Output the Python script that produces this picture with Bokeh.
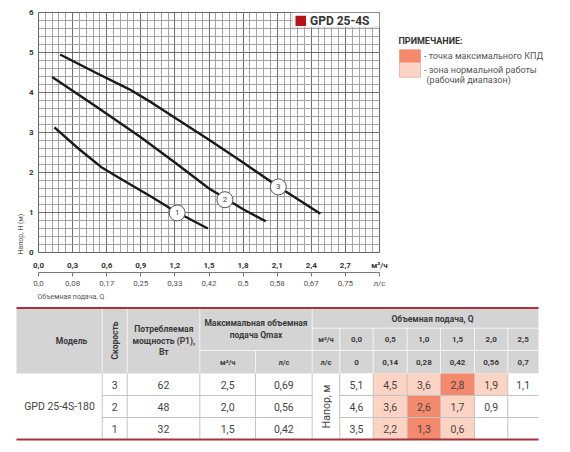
import math
from bokeh.plotting import figure
from bokeh.models import (Range1d, LinearAxis, FixedTicker, Label, BoxAnnotation, Title,
                          ColumnDataSource, CustomJSTickFormatter)
from bokeh.layouts import column, row
from bokeh.embed import file_html
from bokeh.resources import INLINE
from bokeh.core.properties import value

FONT = "Roboto"

# ---------------- data: pump curves (Q in m3/h, H in m) ----------------
q_speed1 = [0.14, 0.35, 0.55, 0.70, 0.85, 1.00, 1.20, 1.49]
h_speed1 = [3.13, 2.60, 2.14, 1.88, 1.63, 1.38, 1.03, 0.60]
q_speed2 = [0.12, 0.50, 0.90, 1.20, 1.50, 1.80, 2.00]
h_speed2 = [4.39, 3.66, 2.88, 2.25, 1.60, 1.08, 0.78]
q_speed3 = [0.19, 0.50, 0.80, 1.00, 1.20, 1.50, 1.80, 2.10, 2.48]
h_speed3 = [4.95, 4.50, 4.08, 3.74, 3.37, 2.82, 2.25, 1.66, 0.97]
marker_q = [1.22, 1.64, 2.11]
marker_h = [0.99, 1.32, 1.64]
marker_labels = ["1", "2", "3"]

q_ticks = [0.0, 0.3, 0.6, 0.9, 1.2, 1.5, 1.8, 2.1, 2.4, 2.7, 3.0]
q_tick_labels = ["0,0", "0,3", "0,6", "0,9", "1,2", "1,5", "1,8", "2,1", "2,4", "2,7", "м³/ч"]
ls_tick_labels = ["0,0", "0,08", "0,17", "0,25", "0,33", "0,42", "0,5", "0,58", "0,67", "0,75", "л/с"]
h_ticks = [0, 1, 2, 3, 4, 5, 6]

# ---------------- data: table ----------------
model_name = "GPD 25-4S-180"
speeds = [3, 2, 1]
power_w = [62, 48, 32]
qmax_m3h = [2.5, 2.0, 1.5]
qmax_ls = [0.69, 0.56, 0.42]
flow_m3h = [0.0, 0.5, 1.0, 1.5, 2.0, 2.5]
flow_ls = ["0", "0,14", "0,28", "0,42", "0,56", "0,7"]
head_speed3 = [5.1, 4.5, 3.6, 2.8, 1.9, 1.1]
head_speed2 = [4.6, 3.6, 2.6, 1.7, 0.9, None]
head_speed1 = [3.5, 2.2, 1.3, 0.6, None, None]
zone_speed3 = [0, 1, 1, 2, 1, 0]   # 0 none, 1 working range, 2 max efficiency
zone_speed2 = [0, 1, 2, 1, 0, 0]
zone_speed1 = [0, 1, 2, 1, 0, 0]


def fmt(v, nd=1):
    if v is None:
        return ""
    return f"{v:.{nd}f}".replace(".", ",")


DARK = "#f4896b"
LIGHT = "#fdd3c3"

# ================= chart figure =================
CW, CH = 395, 300
X_MAX, Y_MAX = 3.0, 6.0
p = figure(width=CW, height=CH, output_backend="svg", toolbar_location=None,
           x_range=Range1d(0, X_MAX), y_range=Range1d(0, Y_MAX),
           min_border_left=38, min_border_right=16, min_border_top=12, min_border_bottom=47,
           background_fill_color="white", border_fill_color="white")
p.outline_line_color = "#666666"
p.outline_line_width = 1

# grid
p.xgrid.ticker = FixedTicker(ticks=q_ticks, minor_ticks=[round(i * 0.06, 2) for i in range(51)])
p.ygrid.ticker = FixedTicker(ticks=h_ticks, minor_ticks=[round(i * 0.2, 1) for i in range(31)])
for g in (p.xgrid, p.ygrid):
    g.grid_line_color = "#6e6e6e"
    g.grid_line_width = 1
    g.minor_grid_line_color = "#9a9a9a"
    g.minor_grid_line_width = 0.9

# primary x axis
xa = p.xaxis[0]
xa.ticker = FixedTicker(ticks=q_ticks)
xa.formatter = CustomJSTickFormatter(args=dict(labels=q_tick_labels), code="return labels[index];")
xa.axis_line_color = None
xa.major_tick_line_color = None
xa.minor_tick_line_color = None
xa.major_tick_out = 0
xa.major_tick_in = 0
xa.major_label_standoff = 8
xa.major_label_text_font = FONT
xa.major_label_text_font_size = "8px"
xa.major_label_text_font_style = "bold"
xa.major_label_text_color = "#333333"

# secondary x axis (l/s)
p.extra_x_ranges = {"ls": Range1d(0, X_MAX / 3.6)}
ax2 = LinearAxis(x_range_name="ls")
ax2.ticker = FixedTicker(ticks=[q / 3.6 for q in q_ticks])
ax2.formatter = CustomJSTickFormatter(args=dict(labels=ls_tick_labels), code="return labels[index];")
ax2.axis_line_color = "#777777"
ax2.major_tick_line_color = "#777777"
ax2.minor_tick_line_color = None
ax2.major_tick_out = 4
ax2.major_tick_in = 0
ax2.major_label_standoff = 2
ax2.major_label_text_font = FONT
ax2.major_label_text_font_size = "8px"
ax2.major_label_text_color = "#555555"
p.add_layout(ax2, "below")

# y axis
ya = p.yaxis[0]
ya.ticker = FixedTicker(ticks=h_ticks)
ya.axis_line_color = None
ya.major_tick_line_color = None
ya.minor_tick_line_color = None
ya.major_tick_out = 0
ya.major_tick_in = 0
ya.major_label_standoff = 5
ya.major_label_text_font = FONT
ya.major_label_text_font_size = "8px"
ya.major_label_text_font_style = "bold"
ya.major_label_text_color = "#333333"

# axis titles as side titles (left aligned)
p.add_layout(Title(text="Объемная подача, Q", align="left", text_font=FONT, text_font_size="7px",
                   text_font_style="normal", text_color="#555555", standoff=0, offset=-1), "below")
p.add_layout(Title(text="Напор, Н (м)", align="left", text_font=FONT, text_font_size="7px",
                   text_font_style="normal", text_color="#555555", standoff=2, offset=-2), "left")

# curves
for qs, hs in ((q_speed1, h_speed1), (q_speed2, h_speed2), (q_speed3, h_speed3)):
    p.line(qs, hs, line_color="#1a1a1a", line_width=2.4, line_join="round", line_cap="butt")

msrc = ColumnDataSource(dict(x=marker_q, y=marker_h, t=marker_labels))
p.scatter("x", "y", source=msrc, size=16, marker="circle", fill_color="white",
          line_color="#555555", line_width=1)
p.text("x", "y", text="t", source=msrc, text_align="center", text_baseline="middle",
       text_font=value(FONT), text_font_size="8px", text_color="#444444")

# model badge (page px -> data helpers)
FX0, FX1, FY0, FY1 = 38.0, 379.0, 12.0, 253.0


def dx(px):
    return (px - FX0) * X_MAX / (FX1 - FX0)


def dy(py):
    return (FY1 - py) * Y_MAX / (FY1 - FY0)


p.add_layout(BoxAnnotation(left=dx(291.7), right=dx(379), top=dy(12), bottom=dy(26.7),
                           fill_color="white", fill_alpha=1, line_color="#888888", line_width=1))
p.add_layout(BoxAnnotation(left=dx(295), right=dx(305.5), top=dy(15.2), bottom=dy(25.5),
                           fill_color="#b5121b", fill_alpha=1, line_color=None))
p.add_layout(Label(x=dx(309.5), y=dy(20.5), text="GPD 25-4S", text_font=FONT, text_font_size="12px",
                   text_font_style="bold", text_color="#333333", text_baseline="middle"))

# ================= note figure (right side) =================
NW = 570 - CW
n = figure(width=NW, height=CH, output_backend="svg", toolbar_location=None,
           x_range=Range1d(CW, CW + NW), y_range=Range1d(CH, 0), min_border=0,
           background_fill_color="white", border_fill_color="white")
n.axis.visible = False
n.grid.visible = False
n.outline_line_color = None
n.quad(left=[399, 399], right=[420, 420], top=[46.5, 62.5], bottom=[62.5, 81],
       fill_color=[DARK, LIGHT], line_color=["#e39a85", "#e8b3a3"], line_width=0.8)
nsrc = ColumnDataSource(dict(x=[423.5, 423.5, 426], y=[54, 72, 84],
                             t=["- точка максимального КПД", "- зона нормальной работы", "(рабочий диапазон)"]))
n.text("x", "y", text="t", source=nsrc, text_align="left", text_baseline="middle",
       text_font=value(FONT), text_font_size="9px", text_color="#555555")
n.text([398], [36], text=["ПРИМЕЧАНИЕ:"], text_align="left", text_baseline="middle",
       text_font=value(FONT), text_font_size="9px", text_font_style="bold", text_color="#333333")

# ================= table figure =================
TY0 = CH
TW, TH = 570, 151
t = figure(width=TW, height=TH, output_backend="svg", toolbar_location=None,
           x_range=Range1d(0, TW), y_range=Range1d(TY0 + TH, TY0),
           min_border=0, background_fill_color="white", border_fill_color="white")
t.axis.visible = False
t.grid.visible = False
t.outline_line_color = None

cx = [16, 101.7, 126.7, 199.3, 255, 311.7, 339.3, 372.7, 406.7, 440, 474, 507.3, 538]
hy_top, hy_mid1, hy_mid2, hy_bot = 307.5, 327.7, 350, 373
ry = [373, 395, 417, 439]
HEAD_GRAY = "#d4d4d4"
RED = "#a8323a"
TXT = "#444444"
HTXT = "#3a3a3a"

t.quad(left=[cx[0]], right=[cx[-1]], top=[hy_top], bottom=[hy_bot], fill_color=HEAD_GRAY, line_color=None)

zone_colors = {0: "white", 1: LIGHT, 2: DARK}
heads = [head_speed3, head_speed2, head_speed1]
zones = [zone_speed3, zone_speed2, zone_speed1]
cl, cr, ct, cb, cc = [], [], [], [], []
for r, zr in enumerate(zones):
    for j, z in enumerate(zr):
        cl.append(cx[6 + j]); cr.append(cx[7 + j])
        ct.append(ry[r]); cb.append(ry[r + 1])
        cc.append(zone_colors[z])
t.quad(left=cl, right=cr, top=ct, bottom=cb, fill_color=cc, line_color=None)

# header separators (white)
hx0, hx1, hy0, hy1 = [], [], [], []
for xv in cx[1:4]:
    hx0.append(xv); hx1.append(xv); hy0.append(hy_top); hy1.append(hy_bot)
hx0.append(cx[4]); hx1.append(cx[4]); hy0.append(hy_mid2); hy1.append(hy_bot)
hx0.append(cx[5]); hx1.append(cx[5]); hy0.append(hy_top); hy1.append(hy_bot)
for xv in cx[6:12]:
    hx0.append(xv); hx1.append(xv); hy0.append(hy_mid1); hy1.append(hy_bot)
hx0 += [cx[3], cx[5], cx[5]]; hx1 += [cx[5], cx[-1], cx[-1]]
hy0 += [hy_mid2, hy_mid1, hy_mid2]; hy1 += [hy_mid2, hy_mid1, hy_mid2]
t.segment(x0=hx0, y0=hy0, x1=hx1, y1=hy1, line_color="#f4f4f4", line_width=1)

# body separators (gray)
bx0, bx1, by0, by1 = [], [], [], []
for xv in cx[1:12]:
    bx0.append(xv); bx1.append(xv); by0.append(ry[0]); by1.append(ry[-1])
for yv in ry[1:3]:
    bx0 += [cx[1], cx[6]]; bx1 += [cx[5], cx[-1]]; by0 += [yv, yv]; by1 += [yv, yv]
t.segment(x0=bx0, y0=by0, x1=bx1, y1=by1, line_color="#c4c4c4", line_width=1)

t.segment(x0=[cx[0], cx[0]], y0=[hy_top, ry[-1]], x1=[cx[-1], cx[-1]], y1=[hy_top, ry[-1]],
          line_color=RED, line_width=2.2)


def ttext(xs, ys, texts, size="8px", style="normal", color=TXT, angle=0.0):
    src = ColumnDataSource(dict(x=xs, y=ys, t=texts))
    t.text("x", "y", text="t", source=src, text_align="center", text_baseline="middle",
           text_font=value(FONT), text_font_size=size, text_font_style=style,
           text_color=color, angle=angle)


HB = "8.5px"
ttext([71], [340], ["Модель"], size=HB, style="bold", color=HTXT)
ttext([114], [340], ["Скорость"], size=HB, style="bold", color=HTXT, angle=math.pi / 2)
ttext([163.3] * 3, [328.3, 340, 351.7], ["Потребляемая", "мощность (P1),", "Вт"],
      size=HB, style="bold", color=HTXT)
ttext([255.5] * 2, [322.3, 334.3], ["Максимальная объемная", "подача Qmax"],
      size=HB, style="bold", color=HTXT)
ttext([(cx[3] + cx[4]) / 2, (cx[4] + cx[5]) / 2], [361.5, 361.5], ["м³/ч", "л/с"],
      size="7.5px", style="bold", color=HTXT)
ttext([432], [318.5], ["Объемная подача, Q"], size=HB, style="bold", color=HTXT)
ttext([(cx[5] + cx[6]) / 2] * 2, [339, 361.5], ["м³/ч", "л/с"], size="7.5px", style="bold", color=HTXT)
colc = [(cx[6 + j] + cx[7 + j]) / 2 for j in range(6)]
ttext(colc, [339] * 6, [fmt(v) for v in flow_m3h], size="8px", style="bold", color=HTXT)
ttext(colc, [361.5] * 6, flow_ls, size="8px", style="bold", color=HTXT)

BS = "10.5px"
rc = [(ry[i] + ry[i + 1]) / 2 for i in range(3)]
ttext([59], [rc[1]], [model_name], size=BS)
ttext([(cx[1] + cx[2]) / 2] * 3, rc, [str(s) for s in speeds], size=BS)
ttext([(cx[2] + cx[3]) / 2] * 3, rc, [str(v) for v in power_w], size=BS)
ttext([(cx[3] + cx[4]) / 2] * 3, rc, [fmt(v) for v in qmax_m3h], size=BS)
ttext([(cx[4] + cx[5]) / 2] * 3, rc, [fmt(v, 2) for v in qmax_ls], size=BS)
ttext([(cx[5] + cx[6]) / 2], [rc[1]], ["Напор, м"], size=BS, angle=math.pi / 2)
hx, hyv, ht = [], [], []
for r, rowv in enumerate(heads):
    for j, v in enumerate(rowv):
        hx.append(colc[j]); hyv.append(rc[r]); ht.append(fmt(v))
ttext(hx, hyv, ht, size=BS)

layout = column(row(p, n, spacing=0), t, spacing=0)
open("out.html", "w").write(file_html(layout, INLINE))
